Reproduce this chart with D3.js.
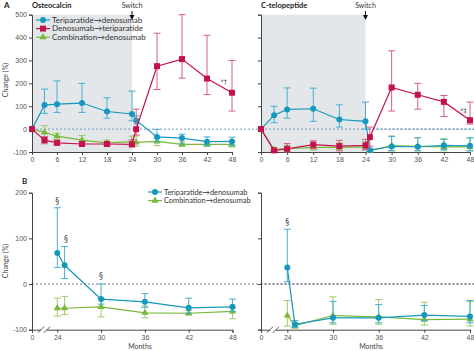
<!DOCTYPE html>
<html lang="en">
  <head>
    <meta charset="utf-8">
    <title></title>
    <style>
      body { margin: 0; background: #fff; }
      svg { display: block; font-family: Lato, "Open Sans", sans-serif; }
      .tick text { fill: #555; font-size: 7px; }
      .tick line, .domain { stroke: #444; }
      .note { font-family: "DejaVu Sans", sans-serif; }
    </style>
  </head>
  <body>
    <svg class="chart"></svg>
    <script src="https://d3js.org/d3.v7.min.js"></script>
    <script>
    // months for panels A and B
    const monthsA = [0, 3, 6, 12, 18, 24, 25, 30, 36, 42, 48];
    const monthsB = [24, 25, 30, 36, 42, 48];
    const xTicksA = [0, 6, 12, 18, 24, 30, 36, 42, 48];
    const xTicksB = [0, 24, 30, 36, 42, 48];
    const yTicksA = [-100, 0, 100, 200, 300, 400, 500];
    const yTicksB = [-100, 0, 100, 200];

    // panel A, osteocalcin
    const ostTeri = [0, 105, 109, 114, 77, 66, 38, -34, -39, -55, -54];
    const ostTeriLo = [0, 69, 73, 73, 48, 36, 22, -55, -65, -71, -71];
    const ostTeriHi = [0, 175, 211, 200, 137, 166, 58, -1, -22, -34, -35];
    const ostDeno = [0, -48, -60, -65, -65, -67, 0, 275, 306, 221, 159];
    const ostDenoLo = [0, -64, -68, -72, -72, -75, -26, 173, 223, 151, 79];
    const ostDenoHi = [0, -33, -50, -55, -57, -47, 87, 419, 500, 410, 300];
    const ostComb = [0, -14, -31, -48, -60, -55, -58, -54, -67, -67, -67];
    const ostCombLo = [0, -40, -45, -62, -70, -75, -75, -72, -75, -75, -78];
    const ostCombHi = [0, 15, -18, -28, -48, -31, -30, -41, -55, -55, -55];

    // panel A, C-telopeptide
    const ctxTeri = [0, 61, 86, 89, 42, 34, -92, -76, -77, -71, -73];
    const ctxTeriLo = [0, 28, 48, 34, 9, 0, -98, -95, -95, -90, -95];
    const ctxTeriHi = [0, 100, 180, 179, 106, 118, -85, -32, -38, -45, -38];
    const ctxDeno = [0, -93, -86, -68, -74, -71, -35, 182, 150, 119, 39];
    const ctxDenoLo = [0, -97, -100, -85, -95, -90, -75, 79, 87, 55, 22];
    const ctxDenoHi = [0, -90, -63, -51, -49, -45, 9, 342, 200, 147, 118];
    const ctxComb = [0, -90, -85, -80, -80, -78, -95, -72, -75, -78, -78];
    const ctxCombLo = [0, -98, -95, -92, -92, -92, -99, -95, -95, -95, -95];
    const ctxCombHi = [0, -80, -70, -70, -60, -55, -88, -30, -37, -42, -38];

    // panel B, osteocalcin
    const bOstTeri = [68, 41, -33, -39, -52, -50];
    const bOstTeriLo = [36, 12, -44, -51, -64, -60];
    const bOstTeriHi = [167, 82, 0, -21, -31, -33];
    const bOstComb = [-53, -53, -50, -63, -64, -60];
    const bOstCombLo = [-70, -67, -72, -74, -68, -76];
    const bOstCombHi = [-31, -27, -32, -48, -58, -52];

    // panel B, C-telopeptide
    const bCtxTeri = [36, -88, -74, -74, -68, -71];
    const bCtxTeriLo = [5, -95, -85, -85, -80, -85];
    const bCtxTeriHi = [120, -80, -38, -45, -47, -36];
    const bCtxComb = [-69, -91, -69, -72, -78, -77];
    const bCtxCombLo = [-92, -97, -88, -88, -90, -92];
    const bCtxCombHi = [-36, -85, -28, -34, -40, -38];

    const colors = {
      teri: "#1797bd", teriBar: "#45afd0",
      deno: "#c4134a", denoBar: "#d55f83",
      comb: "#79b83a", combBar: "#9ccb6b"
    };

    const svg = d3.select(".chart").attr("width", 474).attr("height", 351);

    function makeSeries(x, mean, lo, hi, kind) {
      return x.map((m, i) => ({m: m, v: mean[i], lo: lo[i], hi: hi[i], kind: kind}));
    }

    function drawSeries(g, xScale, yScale, data) {
      const kind = data[0].kind;
      const line = d3.line().x(d => xScale(d.m)).y(d => yScale(d.v));
      // error bars
      const eb = g.append("g").attr("stroke", colors[kind + "Bar"]).attr("stroke-width", 1);
      data.filter(d => d.hi !== d.lo).forEach(d => {
        const cx = xScale(d.m);
        eb.append("line").attr("x1", cx).attr("x2", cx).attr("y1", yScale(d.lo)).attr("y2", yScale(d.hi));
        eb.append("line").attr("x1", cx - 3.5).attr("x2", cx + 3.5).attr("y1", yScale(d.lo)).attr("y2", yScale(d.lo));
        eb.append("line").attr("x1", cx - 3.5).attr("x2", cx + 3.5).attr("y1", yScale(d.hi)).attr("y2", yScale(d.hi));
      });
      g.append("path").datum(data).attr("d", line)
        .attr("fill", "none").attr("stroke", colors[kind]).attr("stroke-width", 1.2);
      drawMarkers(g, data.map(d => [xScale(d.m), yScale(d.v)]), kind);
    }

    function drawMarkers(g, pts, kind) {
      pts.forEach(p => {
        if (kind === "teri") {
          g.append("circle").attr("cx", p[0]).attr("cy", p[1]).attr("r", 3).attr("fill", colors.teri);
        } else if (kind === "deno") {
          g.append("rect").attr("x", p[0] - 3).attr("y", p[1] - 3).attr("width", 6).attr("height", 6).attr("fill", colors.deno);
        } else {
          g.append("path").attr("d", d3.symbol(d3.symbolTriangle, 22)()).attr("transform", "translate(" + p[0] + "," + p[1] + ")").attr("fill", colors.comb);
        }
      });
    }

    function drawLegend(x, y, items, size) {
      const lg = svg.append("g");
      items.forEach((it, i) => {
        const yy = y + i * 8.6;
        lg.append("line").attr("x1", x).attr("x2", x + 14).attr("y1", yy).attr("y2", yy)
          .attr("stroke", colors[it.kind]).attr("stroke-width", 1.2);
        drawMarkers(lg, [[x + 7, yy]], it.kind);
        lg.append("text").attr("x", x + 16).attr("y", yy + 2.8).attr("font-size", size).attr("fill", "#333").text(it.label);
      });
    }

    function drawSwitch(x) {
      svg.append("text").attr("x", x).attr("y", 8).attr("text-anchor", "middle").attr("font-size", 7).attr("fill", "#333").text("Switch");
      svg.append("line").attr("x1", x).attr("x2", x).attr("y1", 11).attr("y2", 18).attr("stroke", "#111").attr("stroke-width", 1);
      svg.append("path").attr("d", "M" + (x - 2.5) + ",15 L" + (x + 2.5) + ",15 L" + x + ",20 Z").attr("fill", "#111");
    }

    // ---- panel A ----
    const yA = d3.scaleLinear().domain([-100, 500]).range([152, 14.7]);
    const xAL = d3.scaleLinear().domain([0, 48]).range([32, 232]);
    const xAR = d3.scaleLinear().domain([0, 48]).range([261, 470]);

    function panelA(xScale, showLabels, teri, deno, comb, note, noteText) {
      const g = svg.append("g");
      g.append("rect").attr("x", xScale(0)).attr("y", yA(500)).attr("width", xScale(24) - xScale(0))
        .attr("height", yA(-100) - yA(500)).attr("fill", "#e4e7ea");
      g.append("line").attr("x1", xScale(0)).attr("x2", 474).attr("y1", yA(0)).attr("y2", yA(0))
        .attr("stroke", "#4a86a8").attr("stroke-dasharray", "2,2").attr("stroke-width", 0.8);
      const yAxis = d3.axisLeft(yA).tickValues(yTicksA).tickSize(3).tickPadding(2)
        .tickFormat(d => showLabels ? d : "");
      g.append("g").attr("transform", "translate(" + xScale(0) + ",0)").call(yAxis);
      const xAxis = d3.axisBottom(xScale).tickValues(xTicksA).tickSize(3).tickPadding(2);
      g.append("g").attr("transform", "translate(0," + yA(-100) + ")").call(xAxis);
      drawSeries(g, xScale, yA, comb);
      drawSeries(g, xScale, yA, teri);
      drawSeries(g, xScale, yA, deno);
      g.append("text").attr("class", "note").attr("x", xScale(note[0])).attr("y", yA(note[1])).attr("font-size", 6.5)
        .attr("fill", "#444").attr("text-anchor", "middle").text(noteText);
    }

    panelA(xAL, true,
      makeSeries(monthsA, ostTeri, ostTeriLo, ostTeriHi, "teri"),
      makeSeries(monthsA, ostDeno, ostDenoLo, ostDenoHi, "deno"),
      makeSeries(monthsA, ostComb, ostCombLo, ostCombHi, "comb"), [46, 195], "*\u2020");
    panelA(xAR, false,
      makeSeries(monthsA, ctxTeri, ctxTeriLo, ctxTeriHi, "teri"),
      makeSeries(monthsA, ctxDeno, ctxDenoLo, ctxDenoHi, "deno"),
      makeSeries(monthsA, ctxComb, ctxCombLo, ctxCombHi, "comb"), [46.5, 72], "*\u2021");

    drawSwitch(xAL(24));
    drawSwitch(xAR(24));

    svg.append("text").attr("x", 4).attr("y", 8).attr("font-size", 8).attr("font-weight", "bold").attr("fill", "#222").text("A");
    svg.append("text").attr("x", 32).attr("y", 8).attr("font-size", 7.5).attr("font-weight", "bold").attr("fill", "#222").text("Osteocalcin");
    svg.append("text").attr("x", 261).attr("y", 8).attr("font-size", 7.5).attr("font-weight", "bold").attr("fill", "#222").text("C-telopeptide");

    drawLegend(36, 20, [
      {kind: "teri", label: "Teriparatide\u2192denosumab"},
      {kind: "deno", label: "Denosumab\u2192teriparatide"},
      {kind: "comb", label: "Combination\u2192denosumab"}
    ], 8);

    // ---- panel B ----
    const yB = d3.scaleLinear().domain([-100, 200]).range([329.7, 192.7]);
    const xBL = d3.scaleLinear().domain([0, 24, 48]).range([32, 57.3, 232.5]);
    const xBR = d3.scaleLinear().domain([0, 24, 48]).range([261, 287.3, 470]);

    function panelB(xScale, showLabels, teri, comb, notes) {
      const g = svg.append("g");
      g.append("line").attr("x1", xScale(0)).attr("x2", 474).attr("y1", yB(0)).attr("y2", yB(0))
        .attr("stroke", "#555").attr("stroke-dasharray", "2,2").attr("stroke-width", 0.8);
      const yAxis = d3.axisLeft(yB).tickValues(yTicksB).tickSize(3).tickPadding(2)
        .tickFormat(d => showLabels ? d : "");
      g.append("g").attr("transform", "translate(" + xScale(0) + ",0)").call(yAxis);
      const xAxis = d3.axisBottom(xScale).tickValues(xTicksB).tickSize(3).tickPadding(2);
      const xg = g.append("g").attr("transform", "translate(0," + yB(-100) + ")").call(xAxis);
      // axis break
      const b0 = xScale(0) + 9, b1 = xScale(0) + 15;
      xg.append("rect").attr("x", b0).attr("y", -2).attr("width", b1 - b0).attr("height", 4).attr("fill", "#fff");
      [b0, b1].forEach(bx => {
        xg.append("line").attr("x1", bx - 3).attr("x2", bx + 3).attr("y1", 3).attr("y2", -3)
          .attr("stroke", "#444").attr("stroke-width", 0.9);
      });
      drawSeries(g, xScale, yB, comb);
      drawSeries(g, xScale, yB, teri);
      notes.forEach(n => {
        g.append("text").attr("class", "note").attr("x", xScale(n[0])).attr("y", yB(n[1])).attr("font-size", 8)
          .attr("fill", "#444").attr("text-anchor", "middle").text("\u00a7");
      });
    }

    panelB(xBL, true,
      makeSeries(monthsB, bOstTeri, bOstTeriLo, bOstTeriHi, "teri"),
      makeSeries(monthsB, bOstComb, bOstCombLo, bOstCombHi, "comb"),
      [[24, 175], [25.2, 93], [30, 10]]);
    panelB(xBR, false,
      makeSeries(monthsB, bCtxTeri, bCtxTeriLo, bCtxTeriHi, "teri"),
      makeSeries(monthsB, bCtxComb, bCtxCombLo, bCtxCombHi, "comb"),
      [[24, 130]]);

    svg.append("text").attr("x", 22).attr("y", 184).attr("font-size", 8).attr("font-weight", "bold").attr("fill", "#222").text("B");
    drawLegend(148, 192, [
      {kind: "teri", label: "Teriparatide\u2192denosumab"},
      {kind: "comb", label: "Combination\u2192denosumab"}
    ], 7.4);

    [[80, "top"], [261, "bottom"]].forEach(p => {
      svg.append("text").attr("transform", "translate(8," + p[0] + ") rotate(-90)")
        .attr("text-anchor", "middle").attr("font-size", 7).attr("fill", "#444").text("Change (%)");
    });
    [[140], [371]].forEach(p => {
      svg.append("text").attr("x", p[0]).attr("y", 349).attr("text-anchor", "middle")
        .attr("font-size", 7).attr("fill", "#444").text("Months");
    });
    </script>
  </body>
</html>
